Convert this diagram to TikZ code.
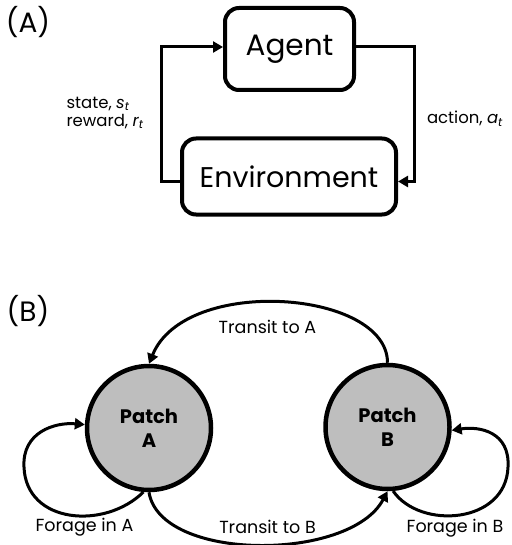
\documentclass[tikz,border=0pt]{standalone}
\usepackage{fontspec}
\setmainfont{Poppins}
\usetikzlibrary{arrows.meta}
\definecolor{patchgray}{RGB}{190,190,190}
\tikzset{
  box/.style={draw, line width=4pt, rounded corners=14pt, inner sep=0pt},
  conn/.style={line width=3pt, -{Triangle[length=10pt,width=11pt]}},
  patch/.style={circle, draw, line width=4.5pt, fill=patchgray, minimum size=124pt, inner sep=0pt, align=center, font=\bfseries\fontsize{19.5}{24}\selectfont},
  lbl/.style={font=\fontsize{16.5}{18}\selectfont, inner sep=0pt, align=left},
  tlbl/.style={font=\fontsize{17.5}{19}\selectfont, inner sep=0pt},
  panel/.style={font=\fontsize{28}{30}\selectfont, inner sep=0pt}
}
\begin{document}
\begin{tikzpicture}[x=1pt,y=-1pt]
\useasboundingbox (0,0) rectangle (511,545);
% Panel A
\node[panel] (pA) at (28,22) {(A)};
\node[box, minimum width=129pt, minimum height=82pt, font=\fontsize{29.5}{31}\selectfont] (agent) at (289.5,49) {Agent};
\node[box, minimum width=214pt, minimum height=76pt, font=\fontsize{28.5}{30}\selectfont] (env) at (289,176.5) {Environment};
\draw[conn] ([yshift=-5pt]env.west) -- ++(-18.5,0) |- ([yshift=2pt]agent.west);
\draw[conn] ([yshift=2pt]agent.east) -- ++(58,0) |- ([yshift=-5pt]env.east);
\node[lbl] (sr) at (105,113) {state, \textit{s\textsubscript{t}}\\reward, \textit{r\textsubscript{t}}};
\node[lbl] (act) at (465,119) {action, \textit{a\textsubscript{t}}};
% Panel B
\node[panel] (pB) at (28,311) {(B)};
\node[patch] (patchA) at (149,428) {Patch\\A};
\node[patch] (patchB) at (387.5,427) {Patch\\B};
\draw[conn] (patchB.north) .. controls (387.5,290) and (185,275) .. (patchA.north);
\draw[conn] (patchA.-90) .. controls (160,562) and (350,562) .. (patchB.-90);
\draw[conn] (patchA.-95) .. controls (105,530) and (26,524) .. (24,467)
  .. controls (22,432) and (55,422) .. (patchA.177);
\draw[conn] (patchB.-85) .. controls (420,530) and (506,524) .. (508,467)
  .. controls (510,432) and (480,426) .. (patchB.-3);
\node[tlbl] (tA) at (267.5,327) {Transit to A};
\node[tlbl] (tB) at (267.5,527) {Transit to B};
\node[tlbl] (fA) at (84.5,527) {Forage in A};
\node[tlbl] (fB) at (455,528) {Forage in B};
\end{tikzpicture}
\end{document}
